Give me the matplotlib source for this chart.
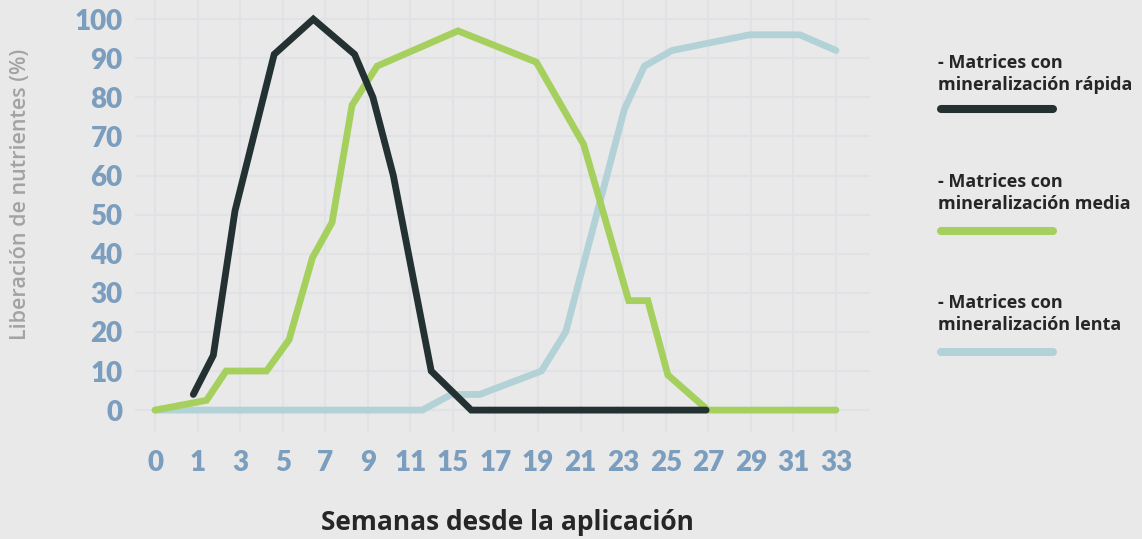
import matplotlib
matplotlib.use("Agg")
import matplotlib.pyplot as plt
from matplotlib.lines import Line2D

# ---- data (x in tick-slot units of the original category axis) ----
tick_labels = ["0", "1", "3", "5", "7", "9", "11", "15", "17", "19",
               "21", "23", "25", "27", "29", "31", "33"]
y_ticks = [0, 10, 20, 30, 40, 50, 60, 70, 80, 90, 100]

rapida_x = [0.90, 1.37, 1.88, 2.80, 3.72, 4.69, 5.12, 5.60, 6.49, 7.43, 12.95]
rapida_y = [4, 14, 51, 91, 100, 91, 80, 60, 10, 0, 0]

media_x = [0, 1.21, 1.67, 2.62, 3.15, 3.70, 4.16, 4.63, 5.22, 7.12,
           8.96, 10.07, 11.13, 11.58, 12.05, 12.99, 16.0]
media_y = [0, 2.5, 10, 10, 18, 39, 48, 78, 88, 97,
           89, 68, 28, 28, 9, 0, 0]

lenta_x = [0, 6.28, 6.96, 7.63, 9.08, 9.65, 11.03, 11.50, 12.15, 13.97, 15.15, 16.0]
lenta_y = [0, 0, 4, 4, 10, 20, 77, 88, 92, 96, 96, 92]

series_names = ["- Matrices con\nmineralización rápida",
                "- Matrices con\nmineralización media",
                "- Matrices con\nmineralización lenta"]

# ---- style ----
BG = "#e9e9e9"
GRID = "#e1e2e5"
C_DARK = "#243133"
C_GREEN = "#a6d05e"
C_BLUE = "#b3d2d8"
TICK_C = "#7b9dbe"
FONT = ["Open Sans", "DejaVu Sans"]
TICK_FONT = ["Lato", "DejaVu Sans"]

W, H = 1142, 539
fig = plt.figure(figsize=(W / 100, H / 100), dpi=100, facecolor=BG)
ax = fig.add_axes([135 / W, 107 / H, 735 / W, 432 / H], facecolor=BG)

lw = 4.9
ax.plot(lenta_x, lenta_y, color=C_BLUE, lw=lw, solid_capstyle="round",
        solid_joinstyle="miter", zorder=3)
ax.plot(media_x, media_y, color=C_GREEN, lw=lw, solid_capstyle="round",
        solid_joinstyle="miter", zorder=4)
ax.plot(rapida_x, rapida_y, color=C_DARK, lw=lw, solid_capstyle="round",
        solid_joinstyle="miter", zorder=5)

ax.set_xlim(-0.47, 16.8)
ax.set_ylim(-5.6, 104.9)
ax.set_xticks(range(len(tick_labels)))
ax.set_xticklabels(tick_labels)
ax.set_yticks(y_ticks)
ax.set_yticklabels([str(v) for v in y_ticks])
ax.grid(True, color=GRID, lw=1.6, zorder=0)
ax.set_axisbelow(True)
for s in ax.spines.values():
    s.set_visible(False)
ax.tick_params(length=0, colors=TICK_C)
ax.tick_params(axis="x", pad=13)
ax.tick_params(axis="y", pad=9)
for lab in ax.get_xticklabels() + ax.get_yticklabels():
    lab.set_fontfamily(TICK_FONT)
    lab.set_fontweight("heavy")
    lab.set_fontsize(20)
    lab.set_color(TICK_C)

# axis titles
fig.text(21 / W, 1 - 194 / H, "Liberación de nutrientes (%)", rotation=90,
         ha="center", va="center", fontsize=15.5, color="#a3a3a3",
         family=FONT, fontweight="semibold")
fig.text(507 / W, 17 / H, "Semanas desde la aplicación", ha="center",
         va="center", fontsize=19, color="#262626", family=FONT,
         fontweight="bold")

# legend
colors = [C_DARK, C_GREEN, C_BLUE]
base1 = [68, 187, 308]
swatch_y = [109, 231, 352]
for name, c, b, sy in zip(series_names, colors, base1, swatch_y):
    l1, l2 = name.split("\n")
    fig.text(938 / W, 1 - b / H, l1, ha="left", va="baseline", fontsize=13,
             color="#262626", family=FONT, fontweight="bold")
    fig.text(938 / W, 1 - (b + 22) / H, l2, ha="left", va="baseline",
             fontsize=13, color="#262626", family=FONT, fontweight="bold")
    fig.add_artist(Line2D([941 / W, 1053 / W], [1 - sy / H, 1 - sy / H],
                          transform=fig.transFigure, color=c, lw=5.8,
                          solid_capstyle="round"))

fig.savefig("out.png", dpi=100, facecolor=BG)
